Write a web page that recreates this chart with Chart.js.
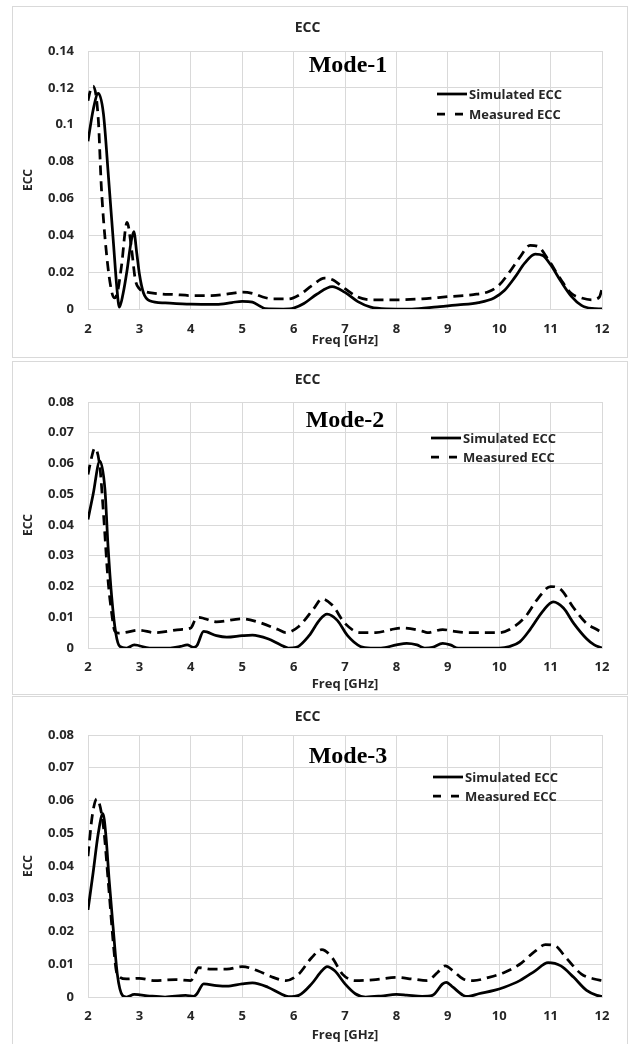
<!DOCTYPE html>
<html>
<head>
<meta charset="utf-8">
<title>ECC - Mode 1/2/3</title>
<script src="https://cdn.jsdelivr.net/npm/chart.js@4.4.0/dist/chart.umd.min.js"></script>
<style>
  body { margin: 0; background: #fff; width: 630px; height: 1044px; overflow: hidden; position: relative; }
  .panel { position: absolute; left: 12px; width: 614px; border: 1px solid #d9d9d9; background: #fff; }
  .panel canvas { display: block; }
</style>
</head>
<body>
<div class="panel" style="top:6px;height:350px"><canvas id="mode1" width="614" height="350"></canvas></div>
<div class="panel" style="top:361px;height:332px"><canvas id="mode2" width="614" height="332"></canvas></div>
<div class="panel" style="top:696px;height:352px"><canvas id="mode3" width="614" height="352"></canvas></div>
<script>
// frequency axis
let freqTicks = [2, 3, 4, 5, 6, 7, 8, 9, 10, 11, 12];
let seriesNames = ["Simulated ECC", "Measured ECC"];

// Mode-1
let mode1SimFreq = [2.0, 2.1, 2.2, 2.3, 2.4, 2.5, 2.56, 2.61, 2.68, 2.76, 2.83, 2.89, 2.95, 3.0, 3.08, 3.2, 3.5, 4.0, 4.5, 4.8,
	5.0, 5.2, 5.35, 5.45, 5.8, 6.0, 6.2, 6.45, 6.75, 7.0, 7.25, 7.5, 7.8, 8.3, 8.8, 9.2, 9.6, 9.9, 10.1, 10.3,
	10.5, 10.7, 10.85, 11.0, 11.2, 11.4, 11.6, 11.8, 12.0];
let mode1SimEcc = [0.091, 0.108, 0.117, 0.106, 0.071, 0.034, 0.012, 0.001, 0.008, 0.021, 0.035, 0.042, 0.030, 0.019, 0.0087, 0.0045, 0.0033, 0.0026, 0.0025, 0.0035,
	0.0042, 0.0037, 0.0015, 0.0002, 0, 0.0005, 0.003, 0.008, 0.0122, 0.009, 0.004, 0.001, 0.0001, 0, 0.0012, 0.0022, 0.0035, 0.006, 0.010, 0.017,
	0.025, 0.0298, 0.029, 0.024, 0.015, 0.007, 0.002, 0.0003, 0];
let mode1MeasFreq = [2.0, 2.05, 2.1, 2.2, 2.26, 2.36, 2.46, 2.52, 2.58, 2.65, 2.76, 2.85, 2.92, 3.0, 3.1, 3.3, 3.7, 4.0, 4.4, 4.8,
	5.0, 5.2, 5.4, 5.6, 5.9, 6.1, 6.35, 6.6, 6.75, 7.0, 7.25, 7.5, 8.0, 8.5, 9.0, 9.5, 9.8, 10.0, 10.2, 10.4,
	10.6, 10.75, 10.95, 11.2, 11.4, 11.6, 11.8, 11.95, 12.0];
let mode1MeasEcc = [0.113, 0.119, 0.121, 0.103, 0.066, 0.030, 0.0095, 0.006, 0.010, 0.023, 0.047, 0.032, 0.016, 0.011, 0.0095, 0.0085, 0.0078, 0.0073, 0.0073, 0.0085,
	0.0092, 0.0085, 0.0065, 0.0055, 0.0055, 0.0075, 0.0125, 0.0168, 0.016, 0.011, 0.0065, 0.005, 0.005, 0.0055, 0.0067, 0.0078, 0.0095, 0.013, 0.020, 0.028,
	0.0345, 0.034, 0.027, 0.016, 0.0085, 0.006, 0.005, 0.0065, 0.011];

// Mode-2
let mode2SimFreq = [2.0, 2.1, 2.23, 2.33, 2.39, 2.46, 2.54, 2.62, 2.75, 2.9, 3.2, 3.6, 3.8, 3.93, 4.05, 4.12, 4.25, 4.5, 4.7, 5.0,
	5.2, 5.5, 5.75, 5.9, 6.05, 6.3, 6.5, 6.65, 6.85, 7.05, 7.3, 7.5, 7.7, 8.0, 8.2, 8.4, 8.55, 8.7, 8.9, 9.05,
	9.2, 10.0, 10.2, 10.4, 10.6, 10.85, 11.05, 11.25, 11.45, 11.7, 11.85, 12.0];
let mode2SimEcc = [0.0418, 0.050, 0.0608, 0.0515, 0.033, 0.0168, 0.0049, 0.0005, 0, 0.001, 0, 0, 0.0005, 0.001, 0.0002, 0.0008, 0.0054, 0.004, 0.0035, 0.004,
	0.0042, 0.003, 0.001, 0, 0.0002, 0.004, 0.009, 0.011, 0.009, 0.004, 0.0005, 0, 0, 0.001, 0.0015, 0.001, 0, 0.0002, 0.0015, 0.001,
	0, 0, 0.0005, 0.002, 0.006, 0.012, 0.015, 0.013, 0.008, 0.003, 0.001, 0];
let mode2MeasFreq = [2.0, 2.07, 2.13, 2.23, 2.3, 2.39, 2.46, 2.52, 2.6, 2.7, 3.0, 3.3, 3.8, 4.0, 4.08, 4.15, 4.5, 5.0, 5.3, 5.7,
	5.85, 6.1, 6.4, 6.55, 6.75, 7.0, 7.3, 7.6, 7.9, 8.1, 8.5, 8.6, 8.9, 9.1, 9.4, 10.0, 10.2, 10.5, 10.75, 11.0,
	11.2, 11.45, 11.7, 11.9, 12.0];
let mode2MeasEcc = [0.0564, 0.062, 0.065, 0.059, 0.044, 0.022, 0.0114, 0.0055, 0.0048, 0.005, 0.0058, 0.005, 0.006, 0.0065, 0.009, 0.010, 0.0085, 0.0095, 0.0085, 0.006,
	0.005, 0.007, 0.013, 0.016, 0.014, 0.008, 0.005, 0.005, 0.006, 0.0065, 0.0055, 0.005, 0.006, 0.0055, 0.005, 0.005, 0.006, 0.010, 0.016, 0.020,
	0.019, 0.013, 0.008, 0.006, 0.005];

// Mode-3
let mode3SimFreq = [2.0, 2.1, 2.2, 2.29, 2.35, 2.41, 2.49, 2.57, 2.67, 2.75, 2.9, 3.2, 3.5, 3.9, 4.05, 4.12, 4.25, 4.5, 4.7, 5.0,
	5.2, 5.5, 5.75, 5.9, 6.1, 6.35, 6.55, 6.65, 6.8, 7.0, 7.2, 7.4, 7.7, 8.0, 8.2, 8.5, 8.7, 8.9, 8.97, 9.1,
	9.3, 9.4, 9.6, 9.9, 10.1, 10.4, 10.7, 10.95, 11.2, 11.45, 11.7, 11.9, 12.0];
let mode3SimEcc = [0.0266, 0.038, 0.050, 0.056, 0.049, 0.036, 0.021, 0.007, 0.0005, 0, 0.0008, 0.0003, 0, 0.0005, 0.0002, 0.001, 0.004, 0.0035, 0.0033, 0.004,
	0.0043, 0.003, 0.001, 0.0001, 0.0005, 0.004, 0.008, 0.0093, 0.008, 0.004, 0.001, 0, 0.0003, 0.0008, 0.0006, 0.0002, 0.0005, 0.004, 0.0045, 0.003,
	0.0005, 0.0002, 0.001, 0.002, 0.003, 0.005, 0.008, 0.0105, 0.0095, 0.006, 0.002, 0.0005, 0.0002];
let mode3MeasFreq = [2.0, 2.08, 2.17, 2.3, 2.4, 2.5, 2.55, 2.62, 2.75, 3.0, 3.3, 3.7, 4.0, 4.08, 4.15, 4.4, 4.7, 5.0, 5.3, 5.6,
	5.85, 6.1, 6.35, 6.55, 6.75, 6.95, 7.2, 7.6, 8.0, 8.3, 8.6, 8.8, 8.95, 9.1, 9.3, 9.5, 9.8, 10.1, 10.4, 10.7,
	10.9, 11.1, 11.3, 11.6, 11.85, 12.0];
let mode3MeasEcc = [0.043, 0.055, 0.0605, 0.052, 0.034, 0.015, 0.008, 0.006, 0.0055, 0.0057, 0.005, 0.0053, 0.005, 0.007, 0.009, 0.0085, 0.0085, 0.0093, 0.008, 0.006,
	0.005, 0.007, 0.012, 0.0145, 0.012, 0.007, 0.005, 0.0053, 0.006, 0.0055, 0.005, 0.0075, 0.0095, 0.008, 0.0055, 0.005, 0.006, 0.0075, 0.010, 0.014,
	0.016, 0.0155, 0.012, 0.007, 0.0055, 0.005];

function toPoints(xs, ys) {
	let pts = [];
	for (let i = 0; i < xs.length; i++) pts.push({ x: xs[i], y: ys[i] });
	return pts;
}

const GRID = "#d9d9d9";
const TXT = "#262626";
const SANS = "'Open Sans', 'Liberation Sans', sans-serif";

// draws "Mode-n" label and the in-plot legend
const panelText = {
	id: "panelText",
	afterDraw(chart, args, opts) {
		const ctx = chart.ctx;
		const a = chart.chartArea;
		ctx.save();
		ctx.fillStyle = "#000";
		ctx.font = "bold 24px 'Liberation Serif', 'Times New Roman', serif";
		ctx.textAlign = "center";
		ctx.textBaseline = "middle";
		ctx.fillText(opts.mode, a.left + opts.modeX, a.top + opts.modeY);

		ctx.font = "bold 13px " + SANS;
		ctx.textAlign = "left";
		chart.data.datasets.forEach((ds, i) => {
			const y = a.top + opts.legendY + i * opts.legendGap;
			const x0 = a.left + opts.legendX;
			ctx.strokeStyle = "#000";
			ctx.lineWidth = 2.75;
			ctx.setLineDash(ds.borderDash && ds.borderDash.length ? [8, 10] : []);
			ctx.beginPath();
			ctx.moveTo(x0, y);
			ctx.lineTo(x0 + 30, y);
			ctx.stroke();
			ctx.setLineDash([]);
			ctx.fillStyle = TXT;
			ctx.fillText(ds.label, x0 + 32, y + 1);
		});
		ctx.restore();
	}
};

function printChart(id, mode, yMax, yStep, sim, meas, lay) {
	new Chart(document.getElementById(id), {
		type: "line",
		data: {
			datasets: [
				{
					label: seriesNames[0],
					data: toPoints(sim[0], sim[1]),
					borderColor: "#000",
					borderWidth: 2.75,
					pointRadius: 0,
					cubicInterpolationMode: "monotone",
					fill: false
				},
				{
					label: seriesNames[1],
					data: toPoints(meas[0], meas[1]),
					borderColor: "#000",
					borderWidth: 2.75,
					borderDash: [10, 6],
					pointRadius: 0,
					cubicInterpolationMode: "monotone",
					fill: false
				}
			]
		},
		options: {
			responsive: false,
			animation: false,
			events: [],
			layout: { padding: { left: 0, right: 25, top: 0, bottom: 0 } },
			plugins: {
				legend: { display: false },
				tooltip: { enabled: false },
				title: {
					display: true,
					text: "ECC",
					color: TXT,
					font: { family: SANS, size: 14, weight: "bold" },
					padding: { top: lay.titleTop, bottom: lay.titleBottom }
				},
				panelText: {
					mode: mode,
					modeX: lay.modeX, modeY: lay.modeY,
					legendX: lay.legendX, legendY: lay.legendY, legendGap: lay.legendGap
				}
			},
			scales: {
				x: {
					type: "linear",
					min: freqTicks[0],
					max: freqTicks[freqTicks.length - 1],
					afterBuildTicks: (s) => { s.ticks = freqTicks.map((v) => ({ value: v })); },
					afterFit: (s) => { s.height = lay.xHeight; },
					grid: { color: GRID, lineWidth: 1, drawTicks: false },
					border: { color: GRID },
					ticks: {
						color: TXT,
						padding: lay.xTickPad,
						maxRotation: 0,
						font: { family: SANS, size: 13, weight: "bold" }
					},
					title: {
						display: true,
						text: "Freq [GHz]",
						color: TXT,
						font: { family: SANS, size: 13, weight: "bold" },
						padding: { top: 0, bottom: lay.xTitlePad }
					}
				},
				y: {
					min: 0,
					max: yMax,
					afterFit: (s) => { s.width = 75; },
					grid: { color: GRID, lineWidth: 1, drawTicks: false },
					border: { color: GRID },
					ticks: {
						stepSize: yStep,
						color: TXT,
						padding: 14,
						font: { family: SANS, size: 13, weight: "bold" },
						callback: (v) => String(Number(v.toFixed(3)))
					},
					title: {
						display: true,
						text: "ECC",
						color: TXT,
						font: { family: SANS, size: 12, weight: "bold" },
						padding: { top: 8, bottom: 0 }
					}
				}
			}
		},
		plugins: [panelText]
	});
}

printChart("mode1", "Mode-1", 0.14, 0.02, [mode1SimFreq, mode1SimEcc], [mode1MeasFreq, mode1MeasEcc],
	{ titleTop: 12.6, titleBottom: 14.6, xHeight: 48, xTickPad: 12, xTitlePad: 9,
		modeX: 260, modeY: 15, legendX: 349, legendY: 43, legendGap: 20 });
printChart("mode2", "Mode-2", 0.08, 0.01, [mode2SimFreq, mode2SimEcc], [mode2MeasFreq, mode2MeasEcc],
	{ titleTop: 9.6, titleBottom: 13.6, xHeight: 46, xTickPad: 11, xTitlePad: 1.5,
		modeX: 257, modeY: 19, legendX: 343, legendY: 36, legendGap: 19 });
printChart("mode3", "Mode-3", 0.08, 0.01, [mode3SimFreq, mode3SimEcc], [mode3MeasFreq, mode3MeasEcc],
	{ titleTop: 11.6, titleBottom: 9.6, xHeight: 52, xTickPad: 11, xTitlePad: 6,
		modeX: 260, modeY: 22, legendX: 345, legendY: 42, legendGap: 19 });
</script>
</body>
</html>
